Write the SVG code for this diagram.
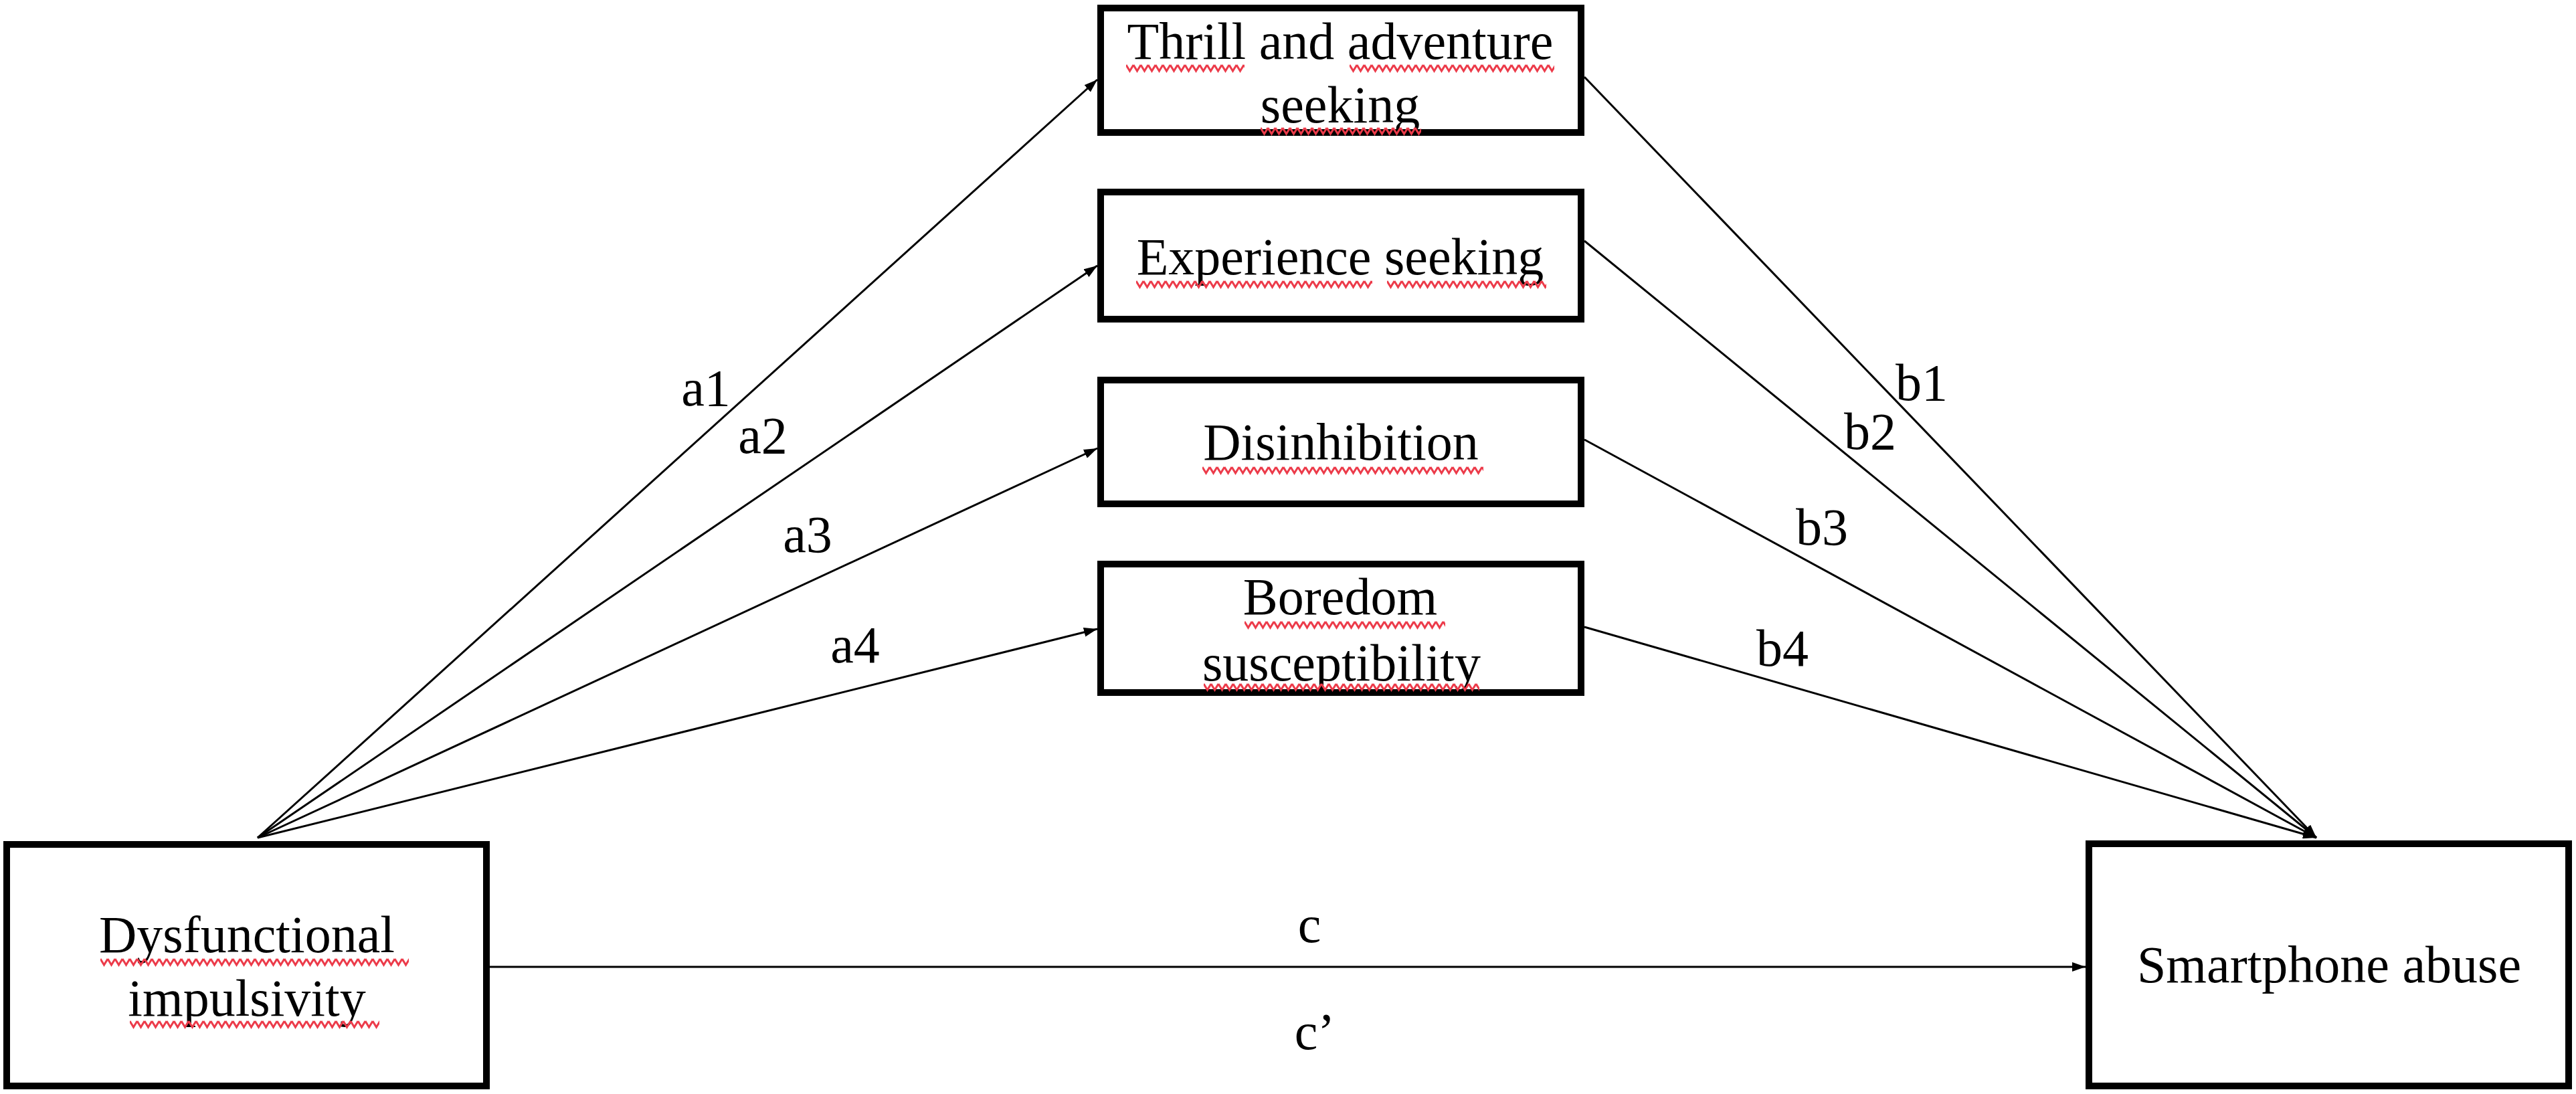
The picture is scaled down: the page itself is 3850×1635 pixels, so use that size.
<svg xmlns="http://www.w3.org/2000/svg" width="3850" height="1635" viewBox="0 0 3850 1635">
<style>
.box{fill:#fff;stroke:#000;stroke-width:10}
.t{font-family:"Liberation Serif","Times New Roman",serif;font-size:78px;fill:#000;text-anchor:middle}
.lab{font-family:"Liberation Serif","Times New Roman",serif;font-size:78px;fill:#000;text-anchor:middle}
.sq{fill:url(#wave)}
.ln{stroke:#000;stroke-width:3;fill:none;marker-end:url(#ah)}
</style>
<defs>
<marker id="ah" markerUnits="userSpaceOnUse" markerWidth="20" markerHeight="14" refX="20" refY="7" orient="auto">
<path d="M0,0 L20,7 L0,14 z" fill="#000"/>
</marker>
<pattern id="wave" patternUnits="userSpaceOnUse" width="11" height="16">
<path d="M0,3 L5.5,12 L11,3" stroke="#ec3b4a" stroke-width="3" fill="none"/>
</pattern>
</defs>
<rect width="3850" height="1635" fill="#fff"/>
<g id="connectors">
<path class="ln" d="M385,1252 L1640,119"/>
<path class="ln" d="M385,1252 L1640,397"/>
<path class="ln" d="M385,1252 L1640,670"/>
<path class="ln" d="M385,1252 L1640,940"/>
<path class="ln" d="M2368,115 L3462,1252"/>
<path class="ln" d="M2368,360 L3462,1252"/>
<path class="ln" d="M2368,657 L3462,1252"/>
<path class="ln" d="M2368,937 L3462,1252"/>
<path class="ln" d="M732,1445 L3117,1445"/>
<text class="lab" x="1055" y="606">a1</text>
<text class="lab" x="1140" y="677">a2</text>
<text class="lab" x="1207" y="825">a3</text>
<text class="lab" x="1278" y="990">a4</text>
<text class="lab" x="2872" y="598">b1</text>
<text class="lab" x="2795" y="671">b2</text>
<text class="lab" x="2723" y="814">b3</text>
<text class="lab" x="2664" y="995">b4</text>
<text class="lab" x="1957" y="1408">c</text>
<text class="lab" x="1965" y="1568">c’</text>
</g>
<g id="node-thrill">
<rect class="box" x="1645" y="12" width="718" height="186"/>
<text class="t" x="2003" y="88">Thrill and adventure</text>
<text class="t" x="2003" y="183">seeking</text>
<rect class="sq" x="0" y="0" width="177" height="16" transform="translate(1683,94)"/>
<rect class="sq" x="0" y="0" width="306" height="16" transform="translate(2017,94)"/>
<rect class="sq" x="0" y="0" width="240" height="16" transform="translate(1884,188)"/>
</g>
<g id="node-experience">
<rect class="box" x="1645" y="287" width="718" height="190"/>
<text class="t" x="2003" y="410">Experience seeking</text>
<rect class="sq" x="0" y="0" width="353" height="16" transform="translate(1698,417)"/>
<rect class="sq" x="0" y="0" width="238" height="16" transform="translate(2073,417)"/>
</g>
<g id="node-disinhibition">
<rect class="box" x="1645" y="568" width="718" height="185"/>
<text class="t" x="2004" y="687">Disinhibition</text>
<rect class="sq" x="0" y="0" width="420" height="16" transform="translate(1797,695)"/>
</g>
<g id="node-boredom">
<rect class="box" x="1645" y="843" width="718" height="192"/>
<text class="t" x="2003" y="918">Boredom</text>
<text class="t" x="2005" y="1017">susceptibility</text>
<rect class="sq" x="0" y="0" width="300" height="16" transform="translate(1860,926)"/>
<rect class="sq" x="0" y="0" width="412" height="16" transform="translate(1799,1019)"/>
</g>
<g id="node-dysfunctional">
<rect class="box" x="10" y="1262" width="717" height="361"/>
<text class="t" x="369" y="1423">Dysfunctional</text>
<text class="t" x="369" y="1518">impulsivity</text>
<rect class="sq" x="0" y="0" width="461" height="16" transform="translate(150,1430)"/>
<rect class="sq" x="0" y="0" width="373" height="16" transform="translate(194,1523)"/>
</g>
<g id="node-smartphone">
<rect class="box" x="3122" y="1261" width="717" height="362"/>
<text class="t" x="3481" y="1468">Smartphone abuse</text>
</g>
</svg>
